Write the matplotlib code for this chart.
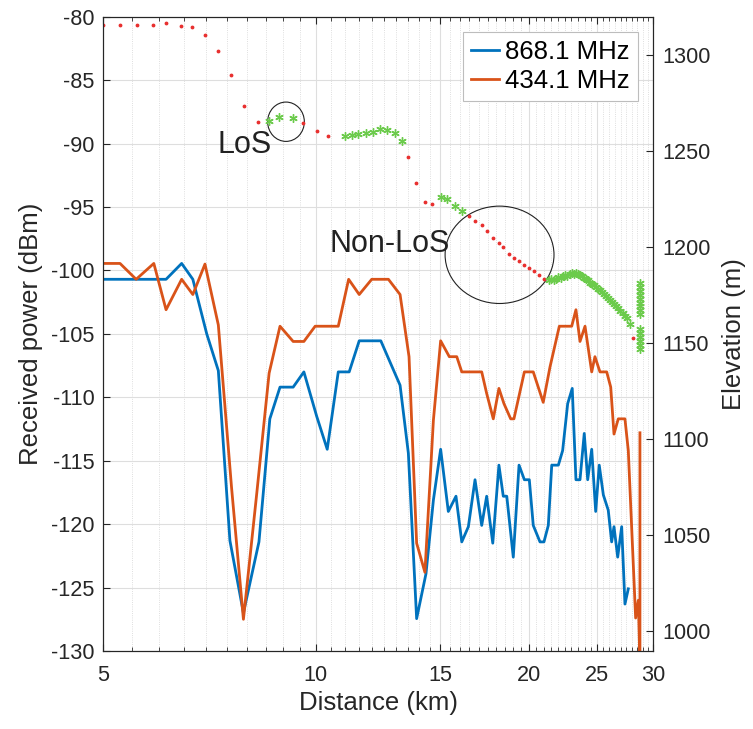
import numpy as np
import matplotlib.pyplot as plt
from matplotlib.patches import Ellipse
from matplotlib.ticker import FixedLocator, FixedFormatter, NullFormatter

plt.rcParams['font.family'] = ['Liberation Sans', 'DejaVu Sans']
plt.rcParams['axes.unicode_minus'] = False

# received power, 868.1 MHz
d_868 = [5.0, 6.14, 6.46, 6.70, 7.01, 7.28, 7.56, 7.90, 8.31, 8.61, 8.90, 9.29, 9.62,
         10.03, 10.38, 10.76, 11.15, 11.52, 12.36, 13.16, 13.52, 13.89, 14.32, 14.67,
         15.02, 15.40, 15.79, 16.09, 16.44, 16.80, 17.17, 17.45, 17.80, 18.16, 18.42,
         18.63, 19.03, 19.39, 19.73, 20.05, 20.31, 20.76, 21.03, 21.33, 21.57, 22.04,
         22.35, 22.72, 23.06, 23.34, 23.65, 23.98, 24.25, 24.57, 24.89, 25.18, 25.52,
         25.93, 26.22, 26.42, 26.74, 27.09, 27.38, 27.68]
p_868 = [-100.7, -100.7, -99.45, -100.7, -105.0, -107.9, -121.3, -127.0, -121.4, -111.7,
         -109.2, -109.2, -108.0, -111.5, -114.1, -108.0, -108.0, -105.55, -105.55, -109.05,
         -114.4, -127.45, -123.9, -118.1, -114.1, -119.0, -117.8, -121.4, -120.2, -116.5,
         -120.1, -117.8, -121.5, -115.35, -117.8, -117.8, -122.6, -115.35, -116.5, -116.5,
         -120.1, -121.4, -121.4, -120.1, -115.35, -115.35, -114.2, -110.5, -109.3, -116.5,
         -116.5, -112.85, -116.5, -114.1, -119.0, -115.35, -117.7, -118.9, -121.4, -120.2,
         -122.6, -120.2, -126.3, -125.1]

# received power, 434.1 MHz
d_434 = [5.0, 5.285, 5.57, 5.9, 6.14, 6.46, 6.70, 6.97, 7.28, 7.60, 7.90, 8.25, 8.59,
         8.90, 9.29, 9.62, 9.98, 10.36, 10.76, 11.13, 11.52, 12.0, 12.67, 13.16, 13.55,
         13.89, 14.27, 14.67, 15.02, 15.45, 15.83, 16.09, 17.17, 17.45, 17.83, 18.16,
         18.46, 18.87, 19.07, 19.73, 20.31, 20.98, 21.45, 22.11, 23.02, 23.34, 23.65,
         24.04, 24.57, 24.83, 25.24, 25.80, 26.14, 26.42, 26.79, 27.38, 27.68, 28.35,
         28.60, 28.75, 28.75]
p_434 = [-99.45, -99.45, -100.7, -99.45, -103.1, -100.7, -101.9, -99.5, -104.3, -117.1,
         -127.5, -117.6, -108.1, -104.4, -105.6, -105.6, -104.4, -104.4, -104.4, -100.7,
         -101.9, -100.7, -100.7, -101.9, -106.8, -121.5, -123.8, -111.8, -105.55, -106.8,
         -106.8, -108.0, -108.0, -109.7, -111.7, -109.3, -110.5, -111.7, -111.7, -108.0,
         -108.0, -110.4, -107.6, -104.4, -104.4, -103.1, -105.6, -104.4, -108.0, -106.8,
         -108.0, -108.0, -109.2, -112.9, -111.7, -111.7, -114.2, -127.4, -126.0, -131.0,
         -112.8]

# elevation profile, non-LoS points
d_nlos = [5.0, 5.285, 5.58, 5.89, 6.13, 6.45, 6.68, 6.97, 7.28, 7.59, 7.91, 8.29,
          9.60, 10.03, 10.40, 13.52, 13.88, 14.27, 14.62, 16.47, 16.80, 17.17, 17.49,
          17.80, 18.16, 18.42, 18.77, 19.07, 19.39, 19.71, 20.05, 20.38, 20.71, 21.05,
          28.08]
h_nlos = [1315.4, 1315.4, 1315.7, 1315.7, 1316.3, 1314.9, 1314.2, 1310.2, 1302.2, 1289.4,
          1273.3, 1265.2, 1264.3, 1260.5, 1257.5, 1246.6, 1233.3, 1223.1, 1222.4, 1215.9,
          1213.7, 1211.5, 1208.0, 1204.5, 1202.1, 1199.8, 1196.4, 1194.1, 1192.6, 1190.7,
          1189.1, 1187.4, 1185.1, 1183.4, 1152.7]

# elevation profile, LoS points
d_los = [8.59, 8.88, 9.28, 11.0, 11.25, 11.48, 11.78, 12.05, 12.33, 12.61, 12.94, 13.24,
         15.02, 15.32, 15.74, 16.09,
         21.38, 21.55, 21.7, 21.87, 22.05, 22.2, 22.38, 22.55, 22.7, 22.89, 23.05, 23.2,
         23.34, 23.5, 23.65, 23.80, 23.95, 24.1, 24.27, 24.45, 24.6, 24.75, 24.9, 25.05,
         25.24, 25.4, 25.55, 25.74, 25.9, 26.05, 26.25, 26.4, 26.6, 26.77, 26.95, 27.21,
         27.4, 27.56, 27.83,
         28.75, 28.75, 28.75, 28.75, 28.75, 28.75, 28.75, 28.75, 28.75,
         28.75, 28.75, 28.75, 28.75, 28.75, 28.75]
h_los = [1265.7, 1267.4, 1266.9, 1257.9, 1258.4, 1258.9, 1259.5, 1260.0, 1261.5, 1261.0,
         1259.4, 1255.3,
         1225.8, 1225.0, 1221.5, 1218.9,
         1182.5, 1183.5, 1182.8, 1183.0, 1184.2, 1183.8, 1184.6, 1185.4, 1185.0, 1185.6,
         1186.4, 1186.0, 1186.2, 1185.6, 1185.2, 1184.6, 1183.8, 1183.0, 1182.5, 1181.4,
         1180.6, 1179.9, 1179.0, 1178.2, 1177.3, 1176.4, 1175.5, 1174.2, 1173.4, 1172.4,
         1171.1, 1170.2, 1169.0, 1167.9, 1166.8, 1165.4, 1164.0, 1162.7, 1159.7,
         1181, 1179, 1177, 1175, 1173, 1171, 1169, 1167, 1165,
         1157, 1155, 1153, 1151, 1149, 1147]

x_ticks = [5, 10, 15, 20, 25, 30]
x_minor = np.arange(5, 30.01, 0.5)

fig = plt.figure(figsize=(7.53, 7.29), dpi=100)
ax1 = fig.add_axes([0.1368, 0.1070, 0.7304, 0.8701])
ax1.set_xscale('log')
ln1, = ax1.plot(d_868, p_868, color='#0072BD', lw=2.0, label='868.1 MHz')
ln2, = ax1.plot(d_434, p_434, color='#D95319', lw=2.0, label='434.1 MHz')
ax1.set_xlim(5, 30)
ax1.set_ylim(-130, -80)
ax1.xaxis.set_major_locator(FixedLocator(x_ticks))
ax1.xaxis.set_major_formatter(FixedFormatter([str(t) for t in x_ticks]))
ax1.xaxis.set_minor_locator(FixedLocator(x_minor))
ax1.xaxis.set_minor_formatter(NullFormatter())
ax1.set_yticks(np.arange(-130, -79, 5))
ax1.grid(which='major', color='#dedede', lw=0.8)
ax1.grid(which='minor', axis='x', color='#d4d4d4', lw=0.6, linestyle=':')
ax1.tick_params(which='both', direction='in', top=True, colors='#262626',
                labelsize=15.6)
ax1.tick_params(which='major', length=5, width=0.8)
ax1.tick_params(which='minor', length=3, width=0.6)
ax1.tick_params(axis='x', pad=10)
ax1.tick_params(axis='y', pad=6)
ax1.set_xlabel('Distance (km)', fontsize=18.5, color='#262626', labelpad=4)
ax1.set_ylabel('Received power (dBm)', fontsize=18.5, color='#262626', labelpad=6)

ax2 = ax1.twinx()
ax2.plot(d_nlos, h_nlos, '.', color='#e8302f', markersize=3.5)
ax2.plot(d_los, h_los, linestyle='none', marker=(6, 2, 0), color='#6ccb4c',
         markersize=6, markeredgewidth=1.0)
ax2.set_ylim(989.6, 1319.8)
ax2.set_yticks(np.arange(1000, 1301, 50))
ax2.tick_params(axis='y', direction='in', colors='#262626', labelsize=15.6,
                length=5, width=0.8, pad=7)
ax2.set_ylabel('Elevation (m)', fontsize=18.5, color='#262626', labelpad=8)
for a in (ax1, ax2):
    for s in a.spines.values():
        s.set_color('#262626')
        s.set_linewidth(0.8)

ax2.add_patch(Ellipse((0.3327, 0.8344), 0.0667, 0.062, transform=ax2.transAxes,
                      fill=False, edgecolor='#222222', lw=0.8))
ax2.add_patch(Ellipse((0.721, 0.6246), 0.198, 0.1535, transform=ax2.transAxes,
                      fill=False, edgecolor='#222222', lw=0.8))
ax1.text(7.93, -90.1, 'LoS', fontsize=22, ha='center', va='center', color='#222222')
ax1.text(12.72, -97.9, 'Non-LoS', fontsize=22, ha='center', va='center', color='#222222')

leg = ax2.legend([ln1, ln2], ['868.1 MHz', '434.1 MHz'], loc='upper right',
                 fontsize=18.5, handlelength=1.1, handletextpad=0.25,
                 borderaxespad=0.6, borderpad=0.3, labelspacing=0.2,
                 fancybox=False, framealpha=1)
leg.get_frame().set_edgecolor('#bdbdbd')
leg.get_frame().set_linewidth(0.8)

fig.savefig('out.png', dpi=100)
